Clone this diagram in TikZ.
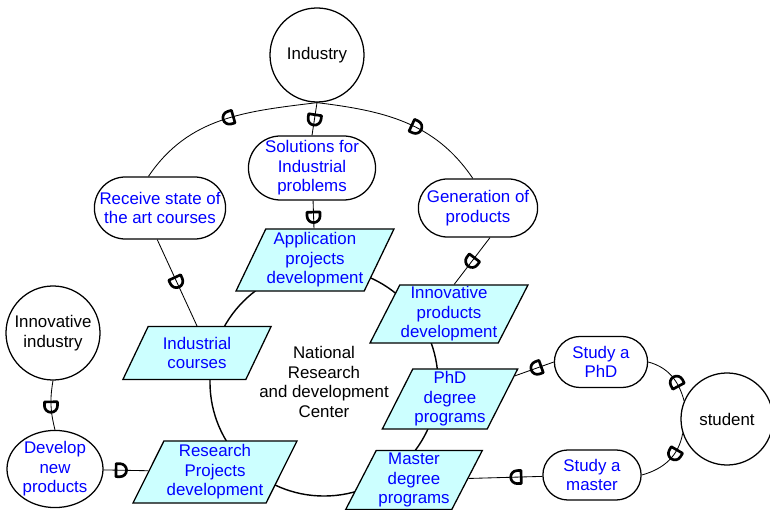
\documentclass[tikz,border=0pt]{standalone}
\usepackage{fontspec}
\setmainfont{Liberation Sans}
\usetikzlibrary{shapes.geometric, shapes.misc, decorations.markings, positioning}

\definecolor{procfill}{HTML}{CCFFFF}
\definecolor{svcblue}{HTML}{0000FF}

\tikzset{
    dmark/.style={postaction={decorate, decoration={markings,
        mark=at position #1 with {\draw[line width=1.9pt, line join=round]
            (-1,-6.5) -- (-1,6.5) -- (3,6.5) arc[start angle=90, end angle=-90, radius=6.5] -- cycle;}}}}
}

\begin{document}
\begin{tikzpicture}[
    x=0.025cm, y=-0.025cm,
    font=\fontsize{12}{13.8}\selectfont,
    actor/.style={circle, draw, line width=0.9pt, minimum size=2.35cm, align=center, inner sep=0pt},
    service/.style={rounded rectangle, draw, line width=0.9pt, align=center, text=svcblue, inner sep=1pt},
    proc/.style={trapezium, trapezium left angle=63, trapezium right angle=117, trapezium stretches=true,
        draw, line width=0.9pt, fill=procfill, align=center, text=svcblue, inner xsep=0pt, inner ysep=1pt},
    link/.style={line width=0.6pt}
]
    \useasboundingbox (0,0) rectangle (770,510);

    % research center ring
    \node[circle, draw, line width=1pt, minimum size=5.7cm, align=center] (nrdc) at (324,382)
        {National\\Research\\and development\\Center};

    % actors
    \node[actor] (ind) at (317,55) {Industry};
    \node[actor] (innind) at (53,333) {Innovative\\industry};
    \node[actor, minimum size=2.3cm] (stu) at (727,419) {student};

    % services
    \node[service, minimum width=3.35cm, minimum height=1.55cm] (rec) at (160,208) {Receive state of\\the art courses};
    \node[service, minimum width=3.05cm, minimum height=1.6cm] (sol) at (312,168) {Solutions for\\Industrial\\problems};
    \node[service, minimum width=3.05cm, minimum height=1.45cm] (gen) at (478,208) {Generation of\\products};
    \node[service, minimum width=2.4cm, minimum height=1.275cm] (sphd) at (601,362) {Study a\\PhD};
    \node[service, minimum width=2.525cm, minimum height=1.25cm] (smas) at (592,475) {Study a\\master};
    \node[ellipse, draw, line width=0.9pt, align=center, text=svcblue, inner sep=0pt,
        minimum width=2.4cm, minimum height=1.7cm] (dev) at (55,469) {Develop\\new\\products};

    % processes on the ring
    \node[proc, minimum width=3.95cm, minimum height=1.55cm] (app) at (315,260) {Application\\projects\\development};
    \node[proc, minimum width=3.95cm, minimum height=1.45cm] (innov) at (449,314) {Innovative\\products\\development};
    \node[proc, minimum width=3.72cm, minimum height=1.32cm] (indc) at (197,353) {Industrial\\courses};
    \node[proc, minimum width=4.1cm, minimum height=1.55cm] (res) at (215,472) {Research\\Projects\\development};
    \node[proc, minimum width=3.4cm, minimum height=1.5cm] (phd) at (450,399) {PhD\\degree\\programs};
    \node[proc, minimum width=3.45cm, minimum height=1.48cm] (mas) at (414,480) {Master\\degree\\programs};

    % links
    \draw[link, dmark=0.45] (ind.south) to[out=187, in=56] (rec.110);
    \draw[link, dmark=0.55] (ind.south) to[out=-7, in=124] (gen.100);
    \draw[link, dmark=0.4] (ind.south) -- (sol.north);
    \draw[link, dmark=0.45] (sol) -- (app);
    \draw[link, dmark=0.45] (rec.265) -- (indc.north);
    \draw[link, dmark=0.45] (gen.292) -- (innov.80);
    \draw[link, dmark=0.45] (innind.south) to[bend right=12] (dev.north);
    \draw[link, dmark=0.3] (dev) -- (res);
    \draw[link, dmark=0.35] (sphd.west) -- (phd);
    \draw[link, dmark=0.3] (smas) -- (mas);
    \draw[link, dmark=0.3] (stu.157) to[out=105, in=-15] (sphd.east);
    \draw[link, dmark=0.3] (stu.198) to[out=-100, in=15] (smas.east);
\end{tikzpicture}
\end{document}
